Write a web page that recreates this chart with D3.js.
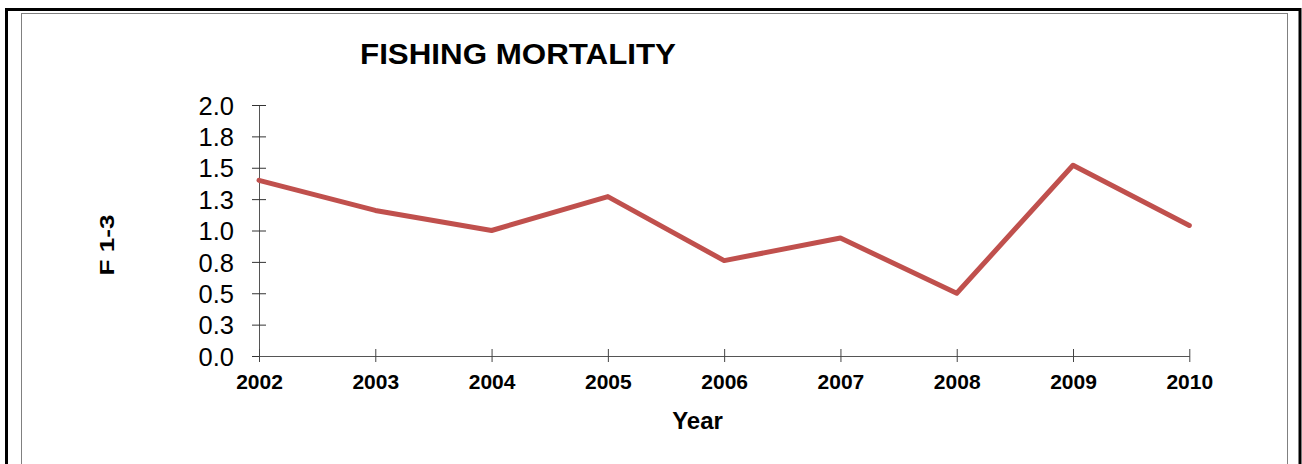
<!DOCTYPE html>
<html><head><meta charset="utf-8">
<script src="https://cdn.jsdelivr.net/npm/d3@7/dist/d3.min.js"></script>
<style>html,body{margin:0;padding:0;background:#fff;overflow:hidden}</style>
</head><body>
<svg id="chart" width="1302" height="464"></svg>
<script>
const years = [2002, 2003, 2004, 2005, 2006, 2007, 2008, 2009, 2010];
const f13 = [1.40, 1.16, 1.00, 1.27, 0.76, 0.94, 0.50, 1.52, 1.04];
const yTicks = [0, 0.25, 0.5, 0.75, 1.0, 1.25, 1.5, 1.75, 2.0];
const titleText = "FISHING MORTALITY";
const xTitle = "Year";
const yTitle = "F 1-3";

const svg = d3.select("#chart");
const font = "'Liberation Sans', Arial, sans-serif";

// frames
svg.append("rect").attr("x", 6.5).attr("y", 9.5).attr("width", 1293.5).attr("height", 480)
  .attr("fill", "none").attr("stroke", "#000").attr("stroke-width", 3);
svg.append("rect").attr("x", 21.5).attr("y", 13.5).attr("width", 1266).attr("height", 480)
  .attr("fill", "none").attr("stroke", "#808080").attr("stroke-width", 1);

const x = d3.scaleLinear().domain([2002, 2010]).range([259, 1189.3]);
const y = d3.scaleLinear().domain([0, 2]).range([356, 105]);

// y axis
const yAxis = d3.axisLeft(y).tickValues(yTicks).tickSize(0)
  .tickFormat(d => (Math.round(d * 10 + 1e-9) / 10).toFixed(1)).tickPadding(25);
const gy = svg.append("g").attr("transform", "translate(259,0)").call(yAxis);
gy.select(".domain").attr("stroke", "#555").attr("stroke-width", 1);
gy.selectAll(".tick text").attr("font-family", font).attr("font-size", 25.5)
  .attr("fill", "#000").attr("dy", "0.36em");
gy.selectAll(".tick").append("line").attr("x1", -7).attr("x2", 7)
  .attr("stroke", "#333").attr("stroke-width", 1);

// x axis
const xAxis = d3.axisBottom(x).tickValues(years).tickFormat(d3.format("d")).tickSize(0).tickPadding(32);
const gx = svg.append("g").attr("transform", "translate(0,356)").call(xAxis);
gx.select(".domain").attr("stroke", "#555").attr("stroke-width", 1);
gx.selectAll(".tick text").attr("font-family", font).attr("font-size", 21)
  .attr("font-weight", "bold").attr("fill", "#000").attr("dy", "0").attr("y", 32.5);
gx.selectAll(".tick").append("line").attr("y1", -7).attr("y2", 6)
  .attr("stroke", "#444").attr("stroke-width", 1);

// line
const line = d3.line().x((d, i) => x(years[i])).y(d => y(d));
svg.append("path").datum(f13).attr("d", line).attr("fill", "none")
  .attr("stroke", "#C0504D").attr("stroke-width", 5)
  .attr("stroke-linejoin", "round").attr("stroke-linecap", "round");

// titles
svg.append("text").attr("x", 518).attr("y", 63.5).attr("text-anchor", "middle")
  .attr("font-family", font).attr("font-size", 29).attr("font-weight", "bold")
  .attr("textLength", 316).attr("lengthAdjust", "spacingAndGlyphs")
  .text(titleText);
svg.append("text").attr("x", 697.5).attr("y", 428.5).attr("text-anchor", "middle")
  .attr("font-family", font).attr("font-size", 24).attr("font-weight", "bold")
  .text(xTitle);
svg.append("text").attr("transform", "translate(114,245) rotate(-90)")
  .attr("text-anchor", "middle").attr("font-family", font).attr("font-size", 21)
  .attr("font-weight", "bold").attr("textLength", 61).attr("lengthAdjust", "spacingAndGlyphs")
  .text(yTitle);
</script>
</body></html>
